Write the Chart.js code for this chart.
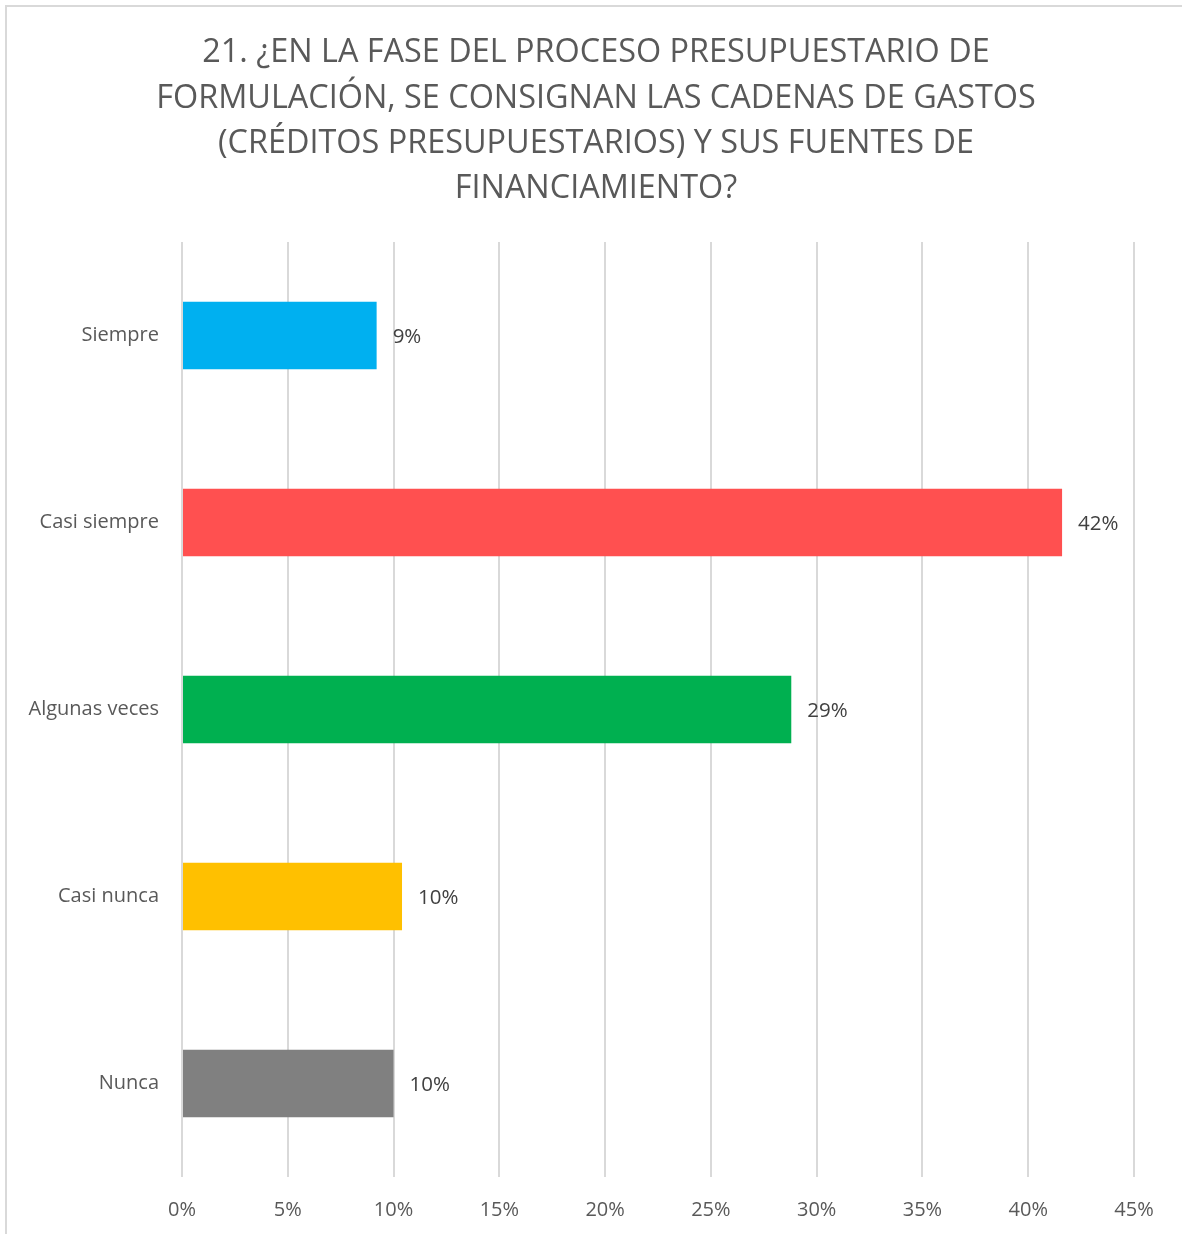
<!DOCTYPE html>
<html>
<head>
<meta charset="utf-8">
<script src="https://cdn.jsdelivr.net/npm/chart.js@4"></script>
<style>
    html, body { margin: 0; padding: 0; background: #fff; }
    #wrap { position: relative; width: 1182px; height: 1234px; }
    #frame {
        position: absolute; left: 5px; top: 5px; right: 0; bottom: 0;
        border-top: 2px solid #d9d9d9; border-left: 2px solid #d9d9d9;
        pointer-events: none;
    }
    canvas { position: absolute; left: 0; top: 0; }
</style>
</head>
<body>
<div id="wrap">
    <canvas id="chart" width="1182" height="1234"></canvas>
    <div id="frame"></div>
</div>
<script>
// Survey answers, percent of respondents
const categories = ['Siempre', 'Casi siempre', 'Algunas veces', 'Casi nunca', 'Nunca'];
const percents = [9.2, 41.6, 28.8, 10.4, 10.0];
const barColors = ['#00B0F0', '#FF5050', '#00B050', '#FFC000', '#808080'];
const xTicks = [0, 5, 10, 15, 20, 25, 30, 35, 40, 45];
const titleLines = [
    '21. ¿EN LA FASE DEL PROCESO PRESUPUESTARIO DE',
    'FORMULACIÓN, SE CONSIGNAN LAS CADENAS DE GASTOS',
    '(CRÉDITOS PRESUPUESTARIOS) Y SUS FUENTES DE',
    'FINANCIAMIENTO?'
];

const FONT = '"Open Sans", "Noto Sans", sans-serif';

// Title is drawn by hand so it can sit centred over the framed area
const titleBlock = {
    id: 'titleBlock',
    afterDraw(chart) {
        const ctx = chart.ctx;
        ctx.save();
        ctx.font = '32.4px ' + FONT;
        ctx.fillStyle = '#595959';
        ctx.textAlign = 'center';
        ctx.textBaseline = 'middle';
        titleLines.forEach((line, i) => {
            ctx.fillText(line, 596, 53 + i * 45.3);
        });
        ctx.restore();
    }
};

// Draws the percent label just past the end of each bar
const valueLabels = {
    id: 'valueLabels',
    afterDatasetsDraw(chart) {
        const ctx = chart.ctx;
        const meta = chart.getDatasetMeta(0);
        ctx.save();
        ctx.font = '20.5px ' + FONT;
        ctx.fillStyle = '#404040';
        ctx.textAlign = 'left';
        ctx.textBaseline = 'middle';
        meta.data.forEach((bar, i) => {
            ctx.fillText(Math.round(percents[i]) + '%', bar.x + 16, bar.y + 2);
        });
        ctx.restore();
    }
};

new Chart(document.getElementById('chart'), {
    type: 'bar',
    data: {
        labels: categories,
        datasets: [{
            data: percents,
            backgroundColor: barColors,
            borderWidth: 0,
            categoryPercentage: 1,
            barPercentage: 0.36
        }]
    },
    options: {
        indexAxis: 'y',
        responsive: false,
        animation: false,
        layout: { padding: { left: 0, right: 48, top: 242, bottom: 0 } },
        plugins: {
            legend: { display: false },
            tooltip: { enabled: false },
            title: { display: false }
        },
        scales: {
            x: {
                min: 0,
                max: 45,
                afterBuildTicks(scale) {
                    scale.ticks = xTicks.map(v => ({ value: v }));
                },
                afterFit(scale) { scale.height = 57; },
                grid: { color: '#d9d9d9', lineWidth: 2, drawTicks: false },
                border: { display: false },
                ticks: {
                    color: '#595959',
                    font: { family: FONT, size: 20 },
                    padding: 21,
                    callback: v => v + '%'
                }
            },
            y: {
                afterFit(scale) { scale.width = 182; },
                grid: { display: false, drawTicks: false },
                border: { display: false },
                ticks: {
                    color: '#595959',
                    font: { family: FONT, size: 20 },
                    padding: 23
                }
            }
        }
    },
    plugins: [valueLabels, titleBlock]
});
</script>
</body>
</html>
